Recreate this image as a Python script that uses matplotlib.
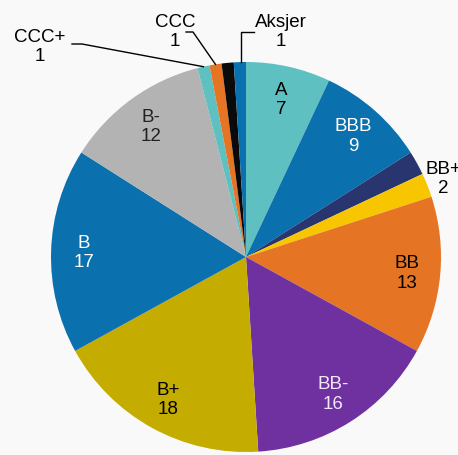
import matplotlib.pyplot as plt
import numpy as np

labels = ["A", "BBB", "", "BB+", "BB", "BB-", "B+", "B", "B-", "CCC+", "CCC", "", "Aksjer"]
values = [7, 9, 2, 2, 13, 16, 18, 17, 12, 1, 1, 1, 1]
colors = ["#5ec0c0", "#0a70ae", "#28356f", "#f7c600", "#e57424", "#7031a0",
          "#c4ac00", "#0a70ae", "#b3b3b3", "#5ec0c0", "#e57424", "#0a0a0a", "#0a70ae"]
inside_text = ["black", "white", None, None, "black", "#f0e8f8", "black", "white", "#222222", None, None, None, None]

BG = "#f9f9f9"
W, H = 458, 456
cx, cy, R = 246, 258, 195

plt.rcParams["font.family"] = ["Liberation Sans", "DejaVu Sans"]
fs = 13.5

fig = plt.figure(figsize=(W / 100, H / 100), dpi=100, facecolor=BG)
ax = fig.add_axes([0, 0, 1, 1])
ax.set_facecolor(BG)

wedges, _ = ax.pie(values, colors=colors, startangle=90, counterclock=False,
                   radius=1, wedgeprops=dict(linewidth=0))

ax.set_xlim(-cx / R, (W - cx) / R)
ax.set_ylim(-(H - cy) / R, cy / R)
ax.set_aspect("equal")
ax.axis("off")


def mid_point(w, r):
    ang = np.deg2rad((w.theta1 + w.theta2) / 2)
    return r * np.cos(ang), r * np.sin(ang)


for w, lab, val, tc in zip(wedges, labels, values, inside_text):
    if tc is None:
        continue
    x, y = mid_point(w, 0.83)
    ax.text(x, y, f"{lab}\n{val}", ha="center", va="center", color=tc,
            fontsize=fs, linespacing=1.2)


def px(x, y):
    return (x - cx) / R, (cy - y) / R


# outside labels with leader lines
outside = {
    "CCC+": dict(text=(40, 47), path=[(72, 45), (82, 45)]),
    "CCC": dict(text=(175, 32), path=[(186, 33), (193, 33)]),
    "Aksjer": dict(text=(281, 32), path=[(254, 33), (241, 33)]),
}
for w, lab, val in zip(wedges, labels, values):
    if lab in outside:
        spec = outside[lab]
        tx, ty = px(*spec["text"])
        ax.text(tx, ty, f"{lab}\n{val}", ha="center", va="center", color="black",
                fontsize=fs, linespacing=1.2)
        pts = [px(*p) for p in spec["path"]]
        ex, ey = mid_point(w, 1.0)
        if lab == "Aksjer":
            pts.append((pts[-1][0], ey))
        else:
            pts.append((ex, ey))
        xs, ys = zip(*pts)
        ax.plot(xs, ys, color="black", linewidth=1)
    elif lab == "BB+":
        tx, ty = px(443, 179)
        ax.text(tx, ty, f"{lab}\n{val}", ha="center", va="center", color="black",
                fontsize=fs, linespacing=1.2)

fig.savefig("out.png", dpi=100, facecolor=BG)
